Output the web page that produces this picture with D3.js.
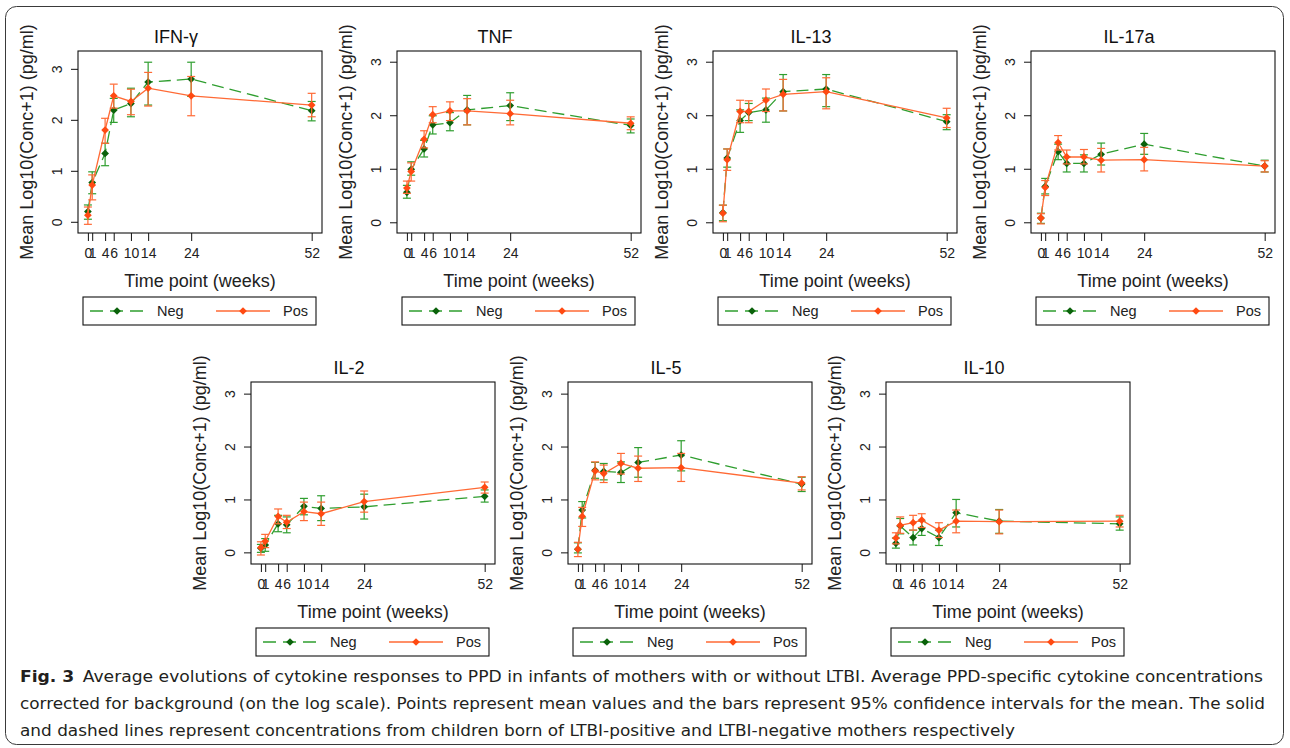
<!DOCTYPE html>
<html>
<head>
<meta charset="utf-8">
<script src="https://cdn.jsdelivr.net/npm/d3@7"></script>
<style>
body { margin: 0; background: #fff; }
svg { display: block; }
</style>
</head>
<body>
<svg id="fig" width="1290" height="748"></svg>
<script>
// Time points and cytokines (one panel per cytokine)
var weeks = [0, 1, 4, 6, 10, 14, 24, 52];
var cytokines = ['IFN-\u03b3', 'TNF', 'IL-13', 'IL-17a', 'IL-2', 'IL-5', 'IL-10'];
var groups = ['Neg', 'Pos'];
var yTicks = [0, 1, 2, 3];

// Mean log10(conc+1) and 95% CI, one row per cytokine -- LTBI-negative mothers
var negMean = [
    [0.20, 0.77, 1.34, 2.19, 2.32, 2.74, 2.80, 2.18],
    [0.56, 0.99, 1.37, 1.82, 1.86, 2.10, 2.18, 1.81],
    [0.18, 1.20, 1.90, 2.05, 2.10, 2.44, 2.49, 1.88],
    [0.08, 0.67, 1.32, 1.10, 1.10, 1.27, 1.46, 1.05],
    [0.08, 0.14, 0.54, 0.52, 0.87, 0.83, 0.86, 1.06],
    [0.06, 0.80, 1.55, 1.53, 1.51, 1.70, 1.84, 1.29],
    [0.17, 0.50, 0.28, 0.45, 0.28, 0.75, 0.59, 0.54]
];
var negLow = [
    [0.05, 0.55, 1.10, 1.95, 2.06, 2.29, 2.46, 1.98],
    [0.45, 0.88, 1.22, 1.65, 1.71, 1.82, 1.90, 1.67],
    [0.03, 1.03, 1.68, 1.90, 1.87, 2.08, 2.16, 1.73],
    [-0.02, 0.53, 1.17, 0.94, 0.94, 1.07, 1.27, 0.94],
    [0.00, 0.02, 0.39, 0.37, 0.71, 0.60, 0.63, 0.95],
    [-0.01, 0.65, 1.40, 1.37, 1.32, 1.42, 1.54, 1.15],
    [0.08, 0.35, 0.14, 0.32, 0.13, 0.48, 0.36, 0.42]
];
var negHigh = [
    [0.33, 0.98, 1.54, 2.42, 2.62, 3.13, 3.13, 2.36],
    [0.69, 1.13, 1.53, 1.99, 2.05, 2.37, 2.42, 1.93],
    [0.32, 1.37, 2.10, 2.22, 2.32, 2.76, 2.76, 2.01],
    [0.17, 0.82, 1.46, 1.22, 1.26, 1.48, 1.66, 1.16],
    [0.15, 0.26, 0.70, 0.67, 1.02, 1.07, 1.10, 1.18],
    [0.18, 0.96, 1.70, 1.68, 1.71, 1.98, 2.11, 1.42],
    [0.27, 0.64, 0.42, 0.59, 0.42, 1.00, 0.81, 0.67]
];

// LTBI-positive mothers
var posMean = [
    [0.13, 0.72, 1.80, 2.47, 2.36, 2.62, 2.47, 2.29],
    [0.64, 0.95, 1.55, 2.01, 2.08, 2.08, 2.03, 1.85],
    [0.17, 1.17, 2.07, 2.07, 2.28, 2.39, 2.44, 1.95],
    [0.08, 0.65, 1.49, 1.22, 1.22, 1.16, 1.17, 1.05],
    [0.09, 0.21, 0.68, 0.57, 0.77, 0.73, 0.96, 1.23],
    [0.06, 0.68, 1.54, 1.49, 1.68, 1.59, 1.60, 1.31],
    [0.27, 0.51, 0.56, 0.61, 0.42, 0.59, 0.58, 0.59]
];
var posLow = [
    [-0.05, 0.43, 1.54, 2.23, 2.10, 2.27, 2.08, 2.06],
    [0.54, 0.77, 1.39, 1.86, 1.90, 1.82, 1.82, 1.73],
    [0.01, 0.97, 1.86, 1.86, 2.07, 2.08, 2.12, 1.77],
    [-0.03, 0.50, 1.35, 1.09, 1.09, 0.94, 0.96, 0.94],
    [-0.05, 0.09, 0.54, 0.45, 0.60, 0.51, 0.76, 1.12],
    [-0.08, 0.49, 1.37, 1.32, 1.48, 1.34, 1.34, 1.18],
    [0.16, 0.36, 0.42, 0.47, 0.28, 0.37, 0.35, 0.48]
];
var posHigh = [
    [0.29, 0.92, 2.03, 2.70, 2.60, 2.93, 2.85, 2.52],
    [0.77, 1.11, 1.71, 2.16, 2.25, 2.31, 2.28, 1.97],
    [0.32, 1.37, 2.28, 2.27, 2.49, 2.67, 2.70, 2.13],
    [0.16, 0.78, 1.62, 1.35, 1.36, 1.38, 1.40, 1.15],
    [0.20, 0.34, 0.82, 0.70, 0.95, 0.95, 1.16, 1.33],
    [0.19, 0.85, 1.71, 1.65, 1.87, 1.82, 1.87, 1.43],
    [0.37, 0.67, 0.70, 0.73, 0.56, 0.80, 0.80, 0.70]
];

var captionLines = [
    'Average evolutions of cytokine responses to PPD in infants of mothers with or without LTBI. Average PPD-specific cytokine concentrations',
    'corrected for background (on the log scale). Points represent mean values and the bars represent 95% confidence intervals for the mean. The solid',
    'and dashed lines represent concentrations from children born of LTBI-positive and LTBI-negative mothers respectively'
];

// Layout of the plot boxes (pixels)
var panelLeft = [78, 397, 713, 1031, 251, 568, 886];
var panelTop = [51, 51, 51, 51, 382, 382, 382];
var boxW = 244, boxH = 182;
var yMin = [-0.22, -0.2, -0.2, -0.2, -0.22, -0.22, -0.22];
var yMax = [3.35, 3.2, 3.2, 3.2, 3.22, 3.22, 3.22];

var FONT = '"Liberation Sans", Arial, sans-serif';
var styles = {
    Neg: {line: '#2f9e2f', mark: '#0b620b', dash: '12,6'},
    Pos: {line: '#ff6a35', mark: '#ff4a12', dash: null}
};

var svg = d3.select('#fig');
svg.append('rect').attr('width', 1290).attr('height', 748).attr('fill', '#fff');

// Outer rounded frame of the figure
svg.append('rect')
    .attr('x', 5.5).attr('y', 6.5).attr('width', 1278).attr('height', 738)
    .attr('rx', 11).attr('fill', 'none').attr('stroke', '#3a3a3a').attr('stroke-width', 1);

var diamond = d3.symbol().type(d3.symbolSquare).size(30);

function drawSeries(g, x, y, pts, st) {
    var line = d3.line().x(function(d) { return x(d.w); }).y(function(d) { return y(d.m); });
    g.append('path').datum(pts)
        .attr('d', line)
        .attr('fill', 'none')
        .attr('stroke', st.line)
        .attr('stroke-width', 1.3)
        .attr('stroke-dasharray', st.dash);

    var eb = g.append('g').attr('stroke', st.line).attr('stroke-width', 1.2);
    eb.selectAll('.bar').data(pts).enter().append('line')
        .attr('x1', function(d) { return x(d.w); }).attr('x2', function(d) { return x(d.w); })
        .attr('y1', function(d) { return y(d.lo); }).attr('y2', function(d) { return y(d.hi); });
    eb.selectAll('.capLo').data(pts).enter().append('line')
        .attr('x1', function(d) { return x(d.w) - 4; }).attr('x2', function(d) { return x(d.w) + 4; })
        .attr('y1', function(d) { return y(d.lo); }).attr('y2', function(d) { return y(d.lo); });
    eb.selectAll('.capHi').data(pts).enter().append('line')
        .attr('x1', function(d) { return x(d.w) - 4; }).attr('x2', function(d) { return x(d.w) + 4; })
        .attr('y1', function(d) { return y(d.hi); }).attr('y2', function(d) { return y(d.hi); });

    g.append('g').selectAll('path').data(pts).enter().append('path')
        .attr('d', diamond)
        .attr('fill', st.mark)
        .attr('transform', function(d) { return 'translate(' + x(d.w) + ',' + y(d.m) + ') rotate(45)'; });
}

cytokines.forEach(function(name, i) {
    var x = d3.scaleLinear().domain([-2.3, 54.4]).range([0, boxW]);
    var y = d3.scaleLinear().domain([yMin[i], yMax[i]]).range([boxH, 0]);
    var g = svg.append('g').attr('transform', 'translate(' + panelLeft[i] + ',' + panelTop[i] + ')');

    // Title, centred over the whole graph region
    g.append('text')
        .attr('x', boxW / 2 - 24).attr('y', -8)
        .attr('text-anchor', 'middle')
        .style('font', '18px ' + FONT).attr('fill', '#111')
        .text(name);

    // y axis (rotated tick labels, Stata style)
    var ya = g.append('g').call(d3.axisLeft(y).tickValues(yTicks).tickFormat(d3.format('d'))
        .tickSize(7).tickSizeOuter(0));
    ya.select('.domain').remove();
    ya.selectAll('text')
        .attr('transform', 'rotate(-90)')
        .attr('x', 0).attr('y', -16.5).attr('dy', 0)
        .attr('text-anchor', 'middle')
        .style('font', '14px ' + FONT).attr('fill', '#222');
    ya.selectAll('line').attr('stroke', '#111');

    // x axis
    var xa = g.append('g').attr('transform', 'translate(0,' + boxH + ')')
        .call(d3.axisBottom(x).tickValues(weeks).tickFormat(d3.format('d'))
            .tickSize(8).tickSizeOuter(0));
    xa.select('.domain').remove();
    xa.selectAll('text')
        .attr('y', 25).attr('dy', 0)
        .style('font', '14px ' + FONT).attr('fill', '#222');
    xa.selectAll('line').attr('stroke', '#111');

    // axis titles
    g.append('text')
        .attr('x', boxW / 2).attr('y', boxH + 54)
        .attr('text-anchor', 'middle')
        .style('font', '18px ' + FONT).attr('fill', '#222')
        .text('Time point (weeks)');
    g.append('text')
        .attr('transform', 'translate(-45,' + boxH / 2 + ') rotate(-90)')
        .attr('text-anchor', 'middle')
        .style('font', '18px ' + FONT).attr('fill', '#222')
        .text('Mean Log10(Conc+1) (pg/ml)');

    // series: negative first, positive on top
    var series = [
        weeks.map(function(w, j) { return {w: w, m: negMean[i][j], lo: negLow[i][j], hi: negHigh[i][j]}; }),
        weeks.map(function(w, j) { return {w: w, m: posMean[i][j], lo: posLow[i][j], hi: posHigh[i][j]}; })
    ];
    groups.forEach(function(grp, k) { drawSeries(g, x, y, series[k], styles[grp]); });

    // plot box
    g.append('rect')
        .attr('width', boxW).attr('height', boxH)
        .attr('fill', 'none').attr('stroke', '#111').attr('stroke-width', 1.1);

    // legend
    var lg = g.append('g').attr('transform', 'translate(5,' + (boxH + 64) + ')');
    lg.append('rect').attr('width', 233).attr('height', 28)
        .attr('fill', '#fff').attr('stroke', '#111').attr('stroke-width', 1.1);
    groups.forEach(function(grp, k) {
        var st = styles[grp];
        var x0 = k === 0 ? 7 : 133;
        lg.append('line')
            .attr('x1', x0).attr('x2', x0 + 54).attr('y1', 14).attr('y2', 14)
            .attr('stroke', st.line).attr('stroke-width', 1.3)
            .attr('stroke-dasharray', st.dash ? '13,7' : null);
        lg.append('path').attr('d', diamond).attr('fill', st.mark)
            .attr('transform', 'translate(' + (x0 + 27) + ',14) rotate(45)');
        lg.append('text')
            .attr('x', k === 0 ? 74 : 200).attr('y', 19)
            .style('font', '14.5px ' + FONT).attr('fill', '#222')
            .text(grp);
    });
});

// Caption
var capFont = '"Liberation Sans Narrow", "DejaVu Sans Condensed", "DejaVu Sans", sans-serif';
var capWidths = [1243, 1245, 995];
captionLines.forEach(function(txt, k) {
    var t = svg.append('text')
        .attr('x', 20).attr('y', 682 + k * 27)
        .attr('textLength', capWidths[k]).attr('lengthAdjust', 'spacingAndGlyphs')
        .style('font', '16.5px ' + capFont).style('font-stretch', 'condensed')
        .attr('fill', '#231f20');
    if (k === 0) {
        t.append('tspan').style('font-weight', 'bold').text('Fig. 3');
        t.append('tspan').text('\u2002' + txt);
    } else {
        t.text(txt);
    }
});
</script>
</body>
</html>
